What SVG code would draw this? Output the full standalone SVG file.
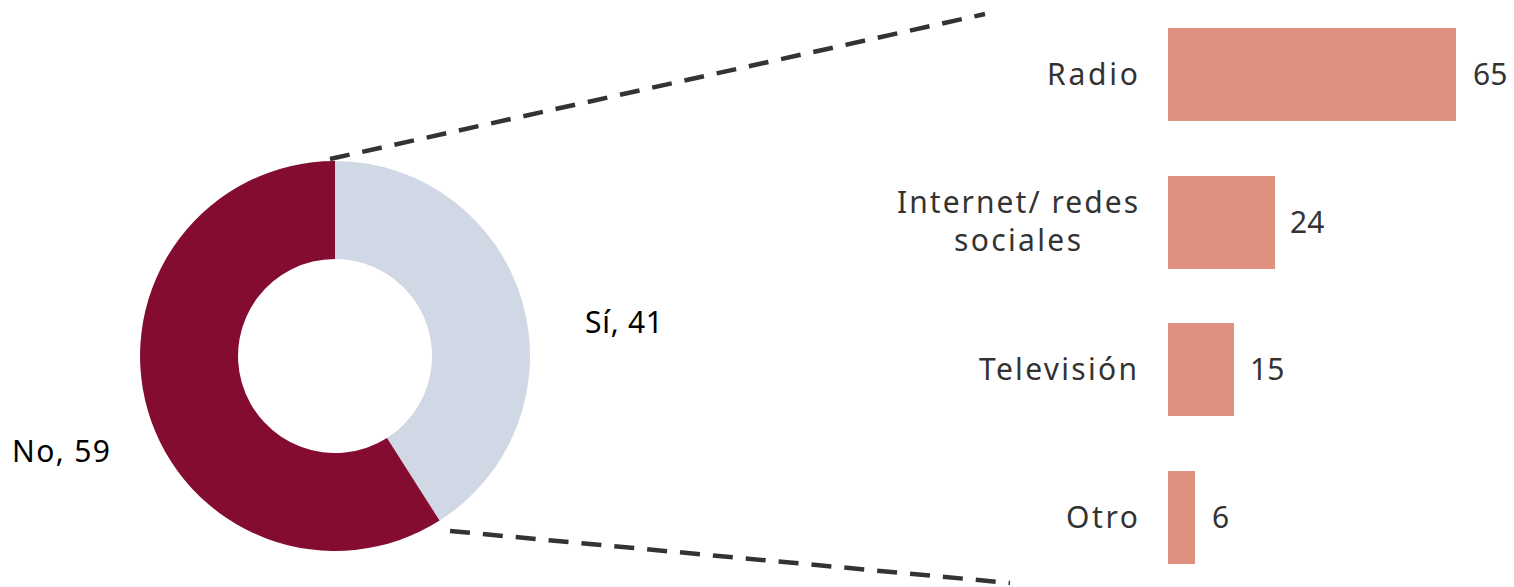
<svg xmlns="http://www.w3.org/2000/svg" width="1514" height="587" viewBox="0 0 1514 587">
<style>
.lbl{font-family:"Noto Sans","Open Sans",sans-serif;font-size:30px;fill:#333333}
.dl{font-family:"Noto Sans","Open Sans",sans-serif;font-size:30px;fill:#000000}
.bar{fill:#E0907E}
.dash{stroke:#333333;stroke-width:4.5;stroke-dasharray:20 13;fill:none}
</style>
<rect width="1514" height="587" fill="#ffffff"/>
<g id="connectors">
<line class="dash" x1="330" y1="159" x2="985" y2="14"/>
<line class="dash" x1="450" y1="531" x2="1010" y2="583"/>
</g>
<g id="donut">
<path id="slice-si" d="M335,161 A195,195 0 0 1 439.6,520.6 L387.0,437.9 A97,97 0 0 0 335,259 Z" fill="#D0D8E6"/>
<path id="slice-no" d="M439.6,520.6 A195,195 0 1 1 335,161 L335,259 A97,97 0 1 0 387.0,437.9 Z" fill="#830C30"/>
<text class="dl" x="585" y="333" textLength="78" lengthAdjust="spacing">Sí, 41</text>
<text class="dl" x="12" y="462" textLength="98" lengthAdjust="spacing">No, 59</text>
</g>
<g id="bar-radio">
<rect class="bar" x="1168" y="28" width="288" height="93"/>
<text class="lbl" x="1047" y="85" textLength="91" lengthAdjust="spacing">Radio</text>
<text class="lbl" x="1473" y="85">65</text>
</g>
<g id="bar-internet">
<rect class="bar" x="1168" y="176" width="107" height="93"/>
<text class="lbl" x="897" y="213" textLength="241" lengthAdjust="spacing">Internet/ redes</text>
<text class="lbl" x="954" y="251" textLength="127" lengthAdjust="spacing">sociales</text>
<text class="lbl" x="1290" y="233">24</text>
</g>
<g id="bar-television">
<rect class="bar" x="1168" y="323" width="66" height="93"/>
<text class="lbl" x="979" y="380" textLength="158" lengthAdjust="spacing">Televisión</text>
<text class="lbl" x="1250" y="380">15</text>
</g>
<g id="bar-otro">
<rect class="bar" x="1168" y="471" width="27" height="93"/>
<text class="lbl" x="1066" y="528" textLength="72" lengthAdjust="spacing">Otro</text>
<text class="lbl" x="1212" y="528">6</text>
</g>
</svg>
